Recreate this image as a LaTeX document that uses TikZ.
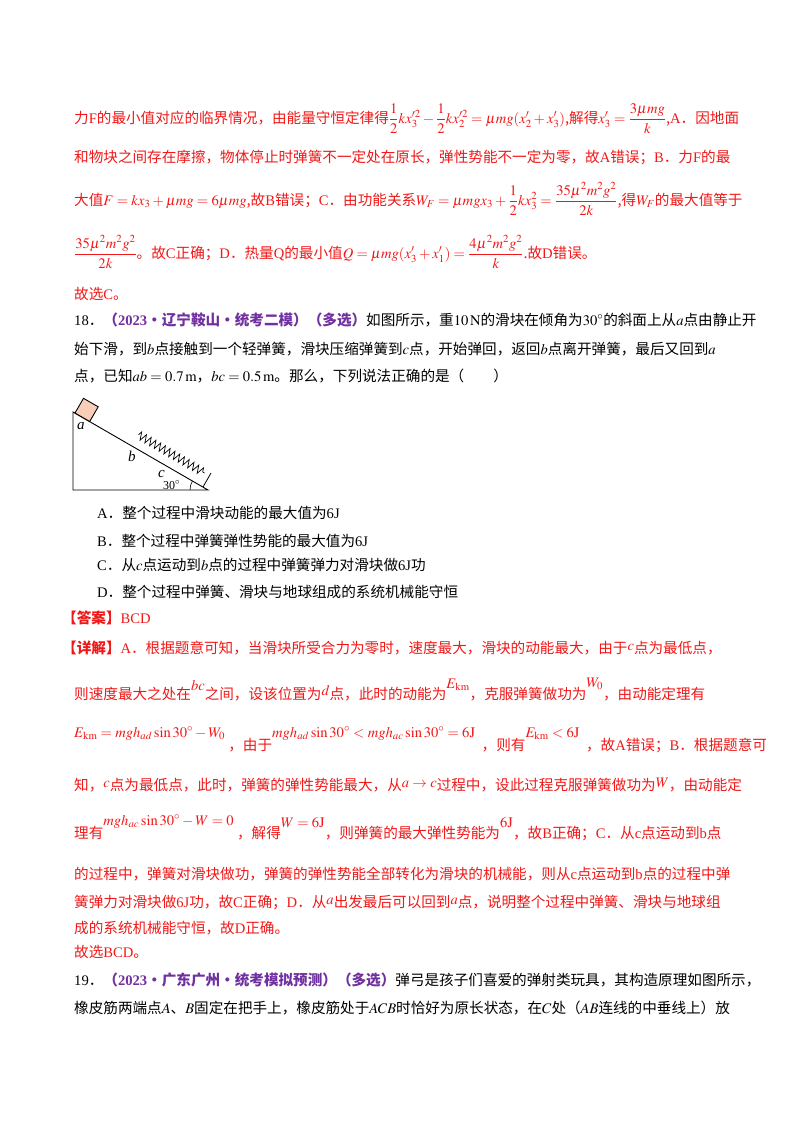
\documentclass[tikz,border=0pt]{standalone}
\usepackage{amsmath}
\usepackage{mathptmx}
\usepackage[no-math]{fontspec}
\setmainfont{Noto Sans CJK SC}
\newfontfamily\tm{Liberation Serif}
\usetikzlibrary{decorations.pathmorphing}
\definecolor{ansred}{HTML}{F01818}
\definecolor{qpurple}{HTML}{7030A0}
\newcommand{\T}[1]{{\tm #1}}
\newcommand{\up}[2][9pt]{\raisebox{#1}{#2}}
\begin{document}
\begin{tikzpicture}[x=1pt,y=-1pt,
  every node/.style={font=\fontsize{14.6}{18}\selectfont, anchor=base west, inner sep=0pt},
  rline/.style={text=ansred},
  bline/.style={text=black},
  fig/.style={line width=0.9pt}]
\useasboundingbox (0,0) rectangle (800,1132);
% red solution lines
\node[rline] (l1) at (74,123) {力\T{F}的最小值对应的临界情况，由能量守恒定律得$\dfrac12kx_3'^2-\dfrac12kx_2'^2=\mu mg(x_2'+x_3')$,解得$x_3'=\dfrac{3\mu mg}{k}$,\T{A}．因地面};
\node[rline] (l2) at (74,162) {和物块之间存在摩擦，物体停止时弹簧不一定处在原长，弹性势能不一定为零，故\T{A}错误；\T{B}．力\T{F}的最};
\node[rline] (l3) at (74,205) {大值$F=kx_3+\mu mg=6\mu mg$,故\T{B}错误；\T{C}．由功能关系$W_F=\mu mgx_3+\dfrac12kx_3^2=\dfrac{35\mu^2m^2g^2}{2k}$,得$W_F$的最大值等于};
\node[rline] (l4) at (74,258) {$\dfrac{35\mu^2m^2g^2}{2k}$。故\T{C}正确；\T{D}．热量\T{Q}的最小值$Q=\mu mg(x_3'+x_1')=\dfrac{4\mu^2m^2g^2}{k}$.故\T{D}错误。};
\node[rline] (l5) at (74,299) {故选\T{C}。};
% question 18
\node[bline] (q1) at (74,325) {\T{18}．{\color{qpurple}\bfseries（\T{\bfseries 2023}·辽宁鞍山·统考二模）（多选）}如图所示，重$10\,\mathrm{N}$的滑块在倾角为$30^\circ$的斜面上从$a$点由静止开};
\node[bline] (q2) at (74,354) {始下滑，到$b$点接触到一个轻弹簧，滑块压缩弹簧到$c$点，开始弹回，返回$b$点离开弹簧，最后又回到$a$};
\node[bline] (q3) at (74,381) {点，已知$ab=0.7\,\mathrm{m}$，$bc=0.5\,\mathrm{m}$。那么，下列说法正确的是（\hspace{2em}）};
% figure
\coordinate (top) at (73,412);
\coordinate (bl) at (73,490);
\coordinate (br) at (208,490);
\draw[fig] (top) -- (bl) -- (br) -- cycle;
\draw[fig, fill={rgb,255:red,248;green,206;blue,184}] (75,413) -- (89.7,421.5) -- (98.2,406.8) -- (83.5,398.3) -- cycle;
\coordinate (sp1) at (138.5,434.7);
\coordinate (sp2) at (204.5,473);
\draw[line width=0.7pt, decorate, decoration={zigzag, segment length=5.5pt, amplitude=4pt}] (sp1) -- (sp2);
\coordinate (w1) at (203,487);
\coordinate (w2) at (211,473);
\draw[line width=0.8pt] (w1) -- (w2);
\draw[line width=0.6pt] (190,490) arc[start angle=180, end angle=210, radius=18];
\node[font=\fontsize{15}{18}\selectfont\tm\itshape] (la) at (77,429) {a};
\node[font=\fontsize{15}{18}\selectfont\tm\itshape] (lb) at (128,461) {b};
\node[font=\fontsize{15}{18}\selectfont\tm\itshape] (lc) at (158,477) {c};
\node[font=\fontsize{12}{14}\selectfont\tm] (l30) at (163,489) {30$^\circ$};
% options
\node[bline] (oa) at (97,518) {\T{A}．整个过程中滑块动能的最大值为\T{6J}};
\node[bline] (ob) at (97,546) {\T{B}．整个过程中弹簧弹性势能的最大值为\T{6J}};
\node[bline] (oc) at (97,570) {\T{C}．从$c$点运动到$b$点的过程中弹簧弹力对滑块做\T{6J}功};
\node[bline] (od) at (97,597) {\T{D}．整个过程中弹簧、滑块与地球组成的系统机械能守恒};
% answer
\node[rline] (ans) at (62,623) {\bfseries【答案】\T{\mdseries BCD}};
\node[rline] (d1) at (62,653) {\bfseries【详解】\mdseries\T{A}．根据题意可知，当滑块所受合力为零时，速度最大，滑块的动能最大，由于\up[3pt]{$c$}点为最低点，};
\node[rline] (d2) at (74,699) {则速度最大之处在\up{$bc$}之间，设该位置为\up[4pt]{$d$}点，此时的动能为\up[11pt]{$E_{\mathrm{km}}$}，克服弹簧做功为\up[12pt]{$W_0$}，由动能定理有};
\node[rline] (d3) at (74,750) {\up[13pt]{$E_{\mathrm{km}}=mgh_{ad}\sin30^\circ-W_0$}\ ，由于\up[13pt]{$mgh_{ad}\sin30^\circ<mgh_{ac}\sin30^\circ=6\mathrm{J}$}\ \ ，则有\up[13pt]{$E_{\mathrm{km}}<6\mathrm{J}$}\ \ ，故\T{A}错误；\T{B}．根据题意可};
\node[rline] (d4) at (74,790) {知，\up[3pt]{$c$}点为最低点，此时，弹簧的弹性势能最大，从\up[3pt]{$a\to c$}过程中，设此过程克服弹簧做功为\up[3pt]{$W$}，由动能定};
\node[rline] (d5) at (74,838) {理有\up[13pt]{$mgh_{ac}\sin30^\circ-W=0$}\ ，解得\up[11pt]{$W=6\mathrm{J}$}，则弹簧的最大弹性势能为\up[11pt]{$6\mathrm{J}$}，故\T{B}正确；\T{C}．从\T{c}点运动到\T{b}点};
\node[rline] (d6) at (74,879) {的过程中，弹簧对滑块做功，弹簧的弹性势能全部转化为滑块的机械能，则从\T{c}点运动到\T{b}点的过程中弹};
\node[rline] (d7) at (74,907) {簧弹力对滑块做\T{6J}功，故\T{C}正确；\T{D}．从\up[3pt]{$a$}出发最后可以回到\up[3pt]{$a$}点，说明整个过程中弹簧、滑块与地球组};
\node[rline] (d8) at (74,933) {成的系统机械能守恒，故\T{D}正确。};
\node[rline] (d9) at (74,957) {故选\T{BCD}。};
% question 19
\node[bline] (r1) at (74,985) {\T{19}．{\color{qpurple}\bfseries（\T{\bfseries 2023}·广东广州·统考模拟预测）（多选）}弹弓是孩子们喜爱的弹射类玩具，其构造原理如图所示，};
\node[bline] (r2) at (74,1013) {橡皮筋两端点$A$、$B$固定在把手上，橡皮筋处于$ACB$时恰好为原长状态，在$C$处（$AB$连线的中垂线上）放};
\end{tikzpicture}
\end{document}
